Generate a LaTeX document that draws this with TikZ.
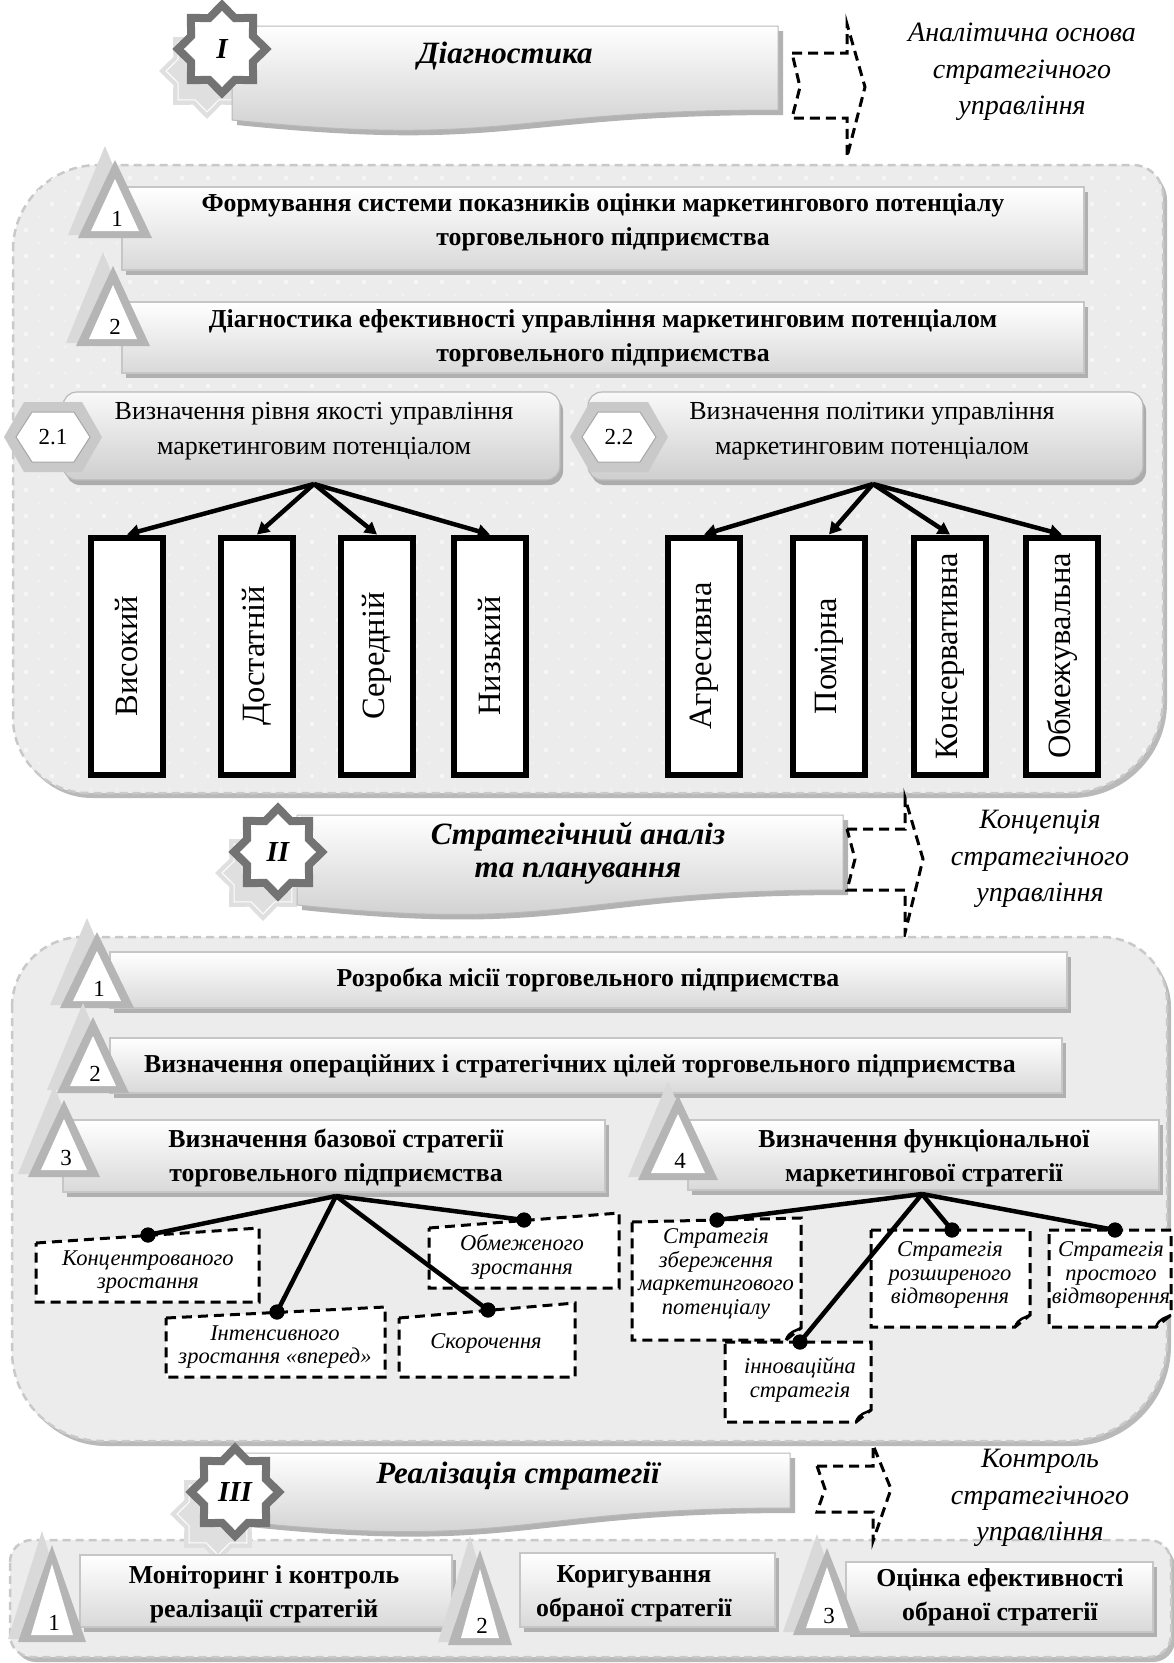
\documentclass[tikz,border=0pt]{standalone}
\usepackage{fontspec}
\setmainfont{Liberation Serif}
\usetikzlibrary{arrows.meta}
\newcommand\panelpath[8]{({#1},{#2+#5}) .. controls ({#1},{#2+0.45*#5}) and ({#1+0.45*#5},{#2}) .. ({#1+#5},{#2}) -- ({#3-#6},{#2}) .. controls ({#3-0.45*#6},{#2}) and ({#3},{#2+0.45*#6}) .. ({#3},{#2+#6}) -- ({#3},{#4-#7}) .. controls ({#3},{#4-0.45*#7}) and ({#3-0.45*#7},{#4}) .. ({#3-#7},{#4}) -- ({#1+#8},{#4}) .. controls ({#1+0.45*#8},{#4}) and ({#1},{#4-0.45*#8}) .. ({#1},{#4-#8}) -- cycle}
\newcommand\drawpanel[8]{%
  \fill[gray!55,shift={(4,5)}] \panelpath{#1}{#2}{#3}{#4}{#5}{#6}{#7}{#8};
  \fill[gray!15] \panelpath{#1}{#2}{#3}{#4}{#5}{#6}{#7}{#8};
  \draw[pborder] \panelpath{#1}{#2}{#3}{#4}{#5}{#6}{#7}{#8};}
\newcommand\bannerpath[5]{(#1,#3) -- (#2,#3) -- (#2,#4) .. controls ({(#1+#2)/2},#4) and ({(#1+#2)/2},{#5+28}) .. (#1,#5) -- cycle}
\newcommand\drawbanner[5]{%
  \fill[gray!60,shift={(5,5)}] \bannerpath{#1}{#2}{#3}{#4}{#5};
  \shade[top color=white, bottom color=gray!42] \bannerpath{#1}{#2}{#3}{#4}{#5};
  \draw[gray!55, line width=1pt] \bannerpath{#1}{#2}{#3}{#4}{#5};}
\newcommand\starshadow[2]{%
  \fill[gray!25] plot[variable=\k, samples at={0,...,15}] ({#1+48*(0.88+0.12*cos(180*\k))*cos(22.5*\k)}, {#2+48*(0.88+0.12*cos(180*\k))*sin(22.5*\k)}) -- cycle;
  \draw[white, line width=1pt] plot[variable=\k, samples at={0,...,15}] ({#1+41*(0.88+0.12*cos(180*\k))*cos(22.5*\k)}, {#2+41*(0.88+0.12*cos(180*\k))*sin(22.5*\k)}) -- cycle;}
\newcommand\starmain[4]{%
  \draw[fill=white, draw=black!55, line width=8pt] plot[variable=\k, samples at={0,...,15}] ({#1+44*(0.88+0.12*cos(180*\k))*cos(22.5*\k)}, {#2+44*(0.88+0.12*cos(180*\k))*sin(22.5*\k)}) -- cycle;
  \node[starfont] (#4) at (#1,#2) {#3};}
\newcommand\numtri[6]{%
  \fill[gray!30] ({#1-10},{#2-14}) -- ({#1-10-#3},{#4-3}) -- ({#1-10+#3},{#4-3}) -- cycle;
  \fill[gray!58] (#1,#2) -- ({#1-#3},#4) -- ({#1+#3},#4) -- cycle;
  \fill[white] (#1,{#2+19}) -- ({#1-#3+13},{#4-7}) -- ({#1+#3-13},{#4-7}) -- cycle;
  \node[numfont] (#6) at ({#1+2},{#4-19}) {#5};}
\newcommand\numhex[4]{%
  \fill[gray!42] ({#1-49},#2) -- ({#1-29},{#2-35}) -- ({#1+29},{#2-35}) -- ({#1+49},#2) -- ({#1+29},{#2+35}) -- ({#1-29},{#2+35}) -- cycle;
  \draw[fill=white, draw=gray!70, line width=1pt] ({#1-37},#2) -- ({#1-21},{#2-25}) -- ({#1+21},{#2-25}) -- ({#1+37},#2) -- ({#1+21},{#2+25}) -- ({#1-21},{#2+25}) -- cycle;
  \node[numfont] (#4) at (#1,#2) {#3};}
\newcommand\gbox[4]{%
  \fill[gray!62] ({#1+4},{#2+5}) rectangle ({#3+4},{#4+5});
  \shade[top color=white, bottom color=gray!30, draw=gray!45, line width=1.2pt] (#1,#2) rectangle (#3,#4);}
\newcommand\rbox[4]{%
  \fill[gray!65, rounded corners=14] ({#1+3},{#2+5}) rectangle ({#3+3},{#4+5});
  \shade[top color=gray!5, bottom color=gray!38, draw=gray!55, line width=1.2pt, rounded corners=14] (#1,#2) rectangle (#3,#4);}
\newcommand\dbox[5]{\draw[dboxst] (#1,#2) -- (#3,#4) -- (#3,#5) -- (#1,#5) -- cycle;}
\newcommand\dboxc[5]{%
  \draw[dboxst] (#1,#2) -- (#3,#4) -- (#3,{#5-12}) -- ({#3-15},#5) -- (#1,#5) -- cycle;
  \draw[line width=2.5pt] ({#3-15},#5) .. controls ({#3-12},{#5-9}) and ({#3-5},{#5-9}) .. (#3,{#5-12});}
\begin{document}
\begin{tikzpicture}[x=1pt,y=-1pt,
  pborder/.style={draw=gray!42, line width=2.5pt, dash pattern=on 8pt off 5pt},
  darrow/.style={line width=3pt, dash pattern=on 10pt off 6pt},
  dboxst/.style={fill=white, draw=black, line width=3pt, dash pattern=on 10pt off 6pt},
  conn/.style={line width=4.5pt},
  dotn/.style={circle, fill=black, inner sep=0pt, minimum size=15pt},
  bfont/.style={font=\fontsize{25.8}{34}\selectfont\bfseries, align=center, inner sep=0pt},
  rfont/.style={font=\fontsize{26}{35}\selectfont, align=center, inner sep=0pt},
  ifont/.style={font=\fontsize{22.5}{23.5}\selectfont\itshape, align=center, inner sep=0pt},
  sfont/.style={font=\fontsize{28}{36.5}\selectfont\itshape, align=center, inner sep=0pt},
  tfont/.style={font=\fontsize{31}{33}\selectfont\bfseries\itshape, align=center, inner sep=0pt},
  numfont/.style={font=\fontsize{23}{24}\selectfont, inner sep=0pt},
  starfont/.style={font=\fontsize{29}{30}\selectfont\bfseries\itshape, inner sep=0pt},
  vbox/.style={draw=black, fill=white, line width=6pt, rotate=90, minimum width=237pt, minimum height=72pt, inner sep=0pt, font=\fontsize{32.5}{34}\selectfont}]
\useasboundingbox (0,0) rectangle (1174,1663);

% ================= Section I header
\starshadow{207}{71}
\drawbanner{232}{778}{26}{110}{120}
\starmain{222}{49}{I}{s1}
\node[tfont] (t1) at (505,56) {Діагностика};
\draw[darrow] (792,53) -- (847,53) -- (847,24) -- (865,87) -- (847,157) -- (847,118) -- (792,118) -- (800,87) -- cycle;
\node[sfont] (side1) at (1022,72) {Аналітична основа\\стратегічного\\управління};

% ================= Panel 1
\drawpanel{13}{165}{1163}{793}{85}{30}{95}{75}
\begin{scope}
  \clip \panelpath{13}{165}{1163}{793}{85}{30}{95}{75};
  \foreach \i in {0,...,44} \foreach \j in {0,...,24} {
    \fill[gray!7] ({26+26*\i},{178+26*\j}) circle (2.2);
    \fill[gray!10] ({39+26*\i},{191+26*\j}) circle (1.6);}
\end{scope}
\gbox{122}{187}{1084}{270}
\numtri{115}{160}{37}{238}{1}{n11}
\node[bfont] (p1a) at (603,222) {Формування системи показників оцінки маркетингового потенціалу\\торговельного підприємства};
\gbox{122}{302}{1084}{373}
\numtri{113}{266}{37}{346}{2}{n12}
\node[bfont] (p1b) at (603,338) {Діагностика ефективності управління маркетинговим потенціалом\\торговельного підприємства};
\rbox{63}{392}{560}{480}
\numhex{53}{437}{2.1}{h21}
\node[rfont] (p1c) at (314,431) {Визначення рівня якості управління\\маркетинговим потенціалом};
\rbox{588}{392}{1143}{480}
\numhex{619}{437}{2.2}{h22}
\node[rfont] (p1d) at (872,431) {Визначення політики управління\\маркетинговим потенціалом};
\coordinate (r1) at (314,484);
\coordinate (r2) at (873,484);
\node[vbox] (v1) at (127,656) {Високий};
\node[vbox] (v2) at (257,656) {Достатній};
\node[vbox] (v3) at (377,656) {Середній};
\node[vbox] (v4) at (490,656) {Низький};
\node[vbox] (v5) at (704,656) {Агресивна};
\node[vbox] (v6) at (829,656) {Помірна};
\node[vbox] (v7) at (950,656) {Консервативна};
\node[vbox] (v8) at (1062,656) {Обмежувальна};
\foreach \n in {v1,v2,v3,v4} \draw[conn,-{Triangle[length=12pt,width=13pt]}] (r1) -- (\n.east);
\foreach \n in {v5,v6,v7,v8} \draw[conn,-{Triangle[length=12pt,width=13pt]}] (r2) -- (\n.east);

% ================= Section II header
\starshadow{263}{873}
\drawbanner{297}{843}{815}{890}{905}
\starmain{278}{852}{II}{s2}
\node[tfont] (t2) at (578,853) {Стратегічний аналіз\\та планування};
\draw[darrow] (847,829) -- (905,829) -- (905,798) -- (923,859) -- (905,933) -- (905,890) -- (847,890) -- (855,859) -- cycle;
\node[sfont] (side2) at (1040,859) {Концепція\\стратегічного\\управління};

% ================= Panel 2
\drawpanel{12}{937}{1167}{1441}{70}{65}{100}{90}
\gbox{110}{952}{1067}{1008}
\numtri{97}{932}{37}{1008}{1}{n21}
\node[bfont] (p2a) at (588,980) {Розробка місії торговельного підприємства};
\gbox{110}{1038}{1062}{1093}
\numtri{93}{1017}{36}{1093}{2}{n22}
\node[bfont] (p2b) at (580,1066) {Визначення операційних і стратегічних цілей торговельного підприємства};
\gbox{63}{1120}{605}{1192}
\numtri{64}{1100}{36}{1177}{3}{n23}
\node[bfont] (p2c) at (336,1158) {Визначення базової стратегії\\торговельного підприємства};
\gbox{688}{1120}{1159}{1190}
\numtri{678}{1095}{40}{1180}{4}{n24}
\node[bfont] (p2d) at (924,1158) {Визначення функціональної\\маркетингової стратегії};

\dbox{36}{1243}{259}{1228}{1302}
\node[ifont] (b1) at (148,1272) {Концентрованого\\зростання};
\dbox{166}{1318}{385}{1307}{1377}
\node[ifont] (b2) at (275,1347) {Інтенсивного\\зростання «вперед»};
\dbox{399}{1318}{575}{1303}{1377}
\node[ifont] (b3) at (486,1343) {Скорочення};
\dbox{429}{1228}{619}{1213}{1288}
\node[ifont] (b4) at (522,1257) {Обмеженого\\зростання};
\dboxc{632}{1222}{801}{1218}{1340}
\node[ifont] (b5) at (716,1274) {Стратегія\\збереження\\маркетингового\\потенціалу};
\dboxc{725}{1342}{871}{1342}{1422}
\node[ifont] (b6) at (800,1380) {інноваційна\\стратегія};
\dboxc{871}{1230}{1030}{1230}{1327}
\node[ifont] (b7) at (950,1275) {Стратегія\\розширеного\\відтворення};
\dboxc{1049}{1230}{1171}{1230}{1327}
\node[ifont] (b8) at (1111,1275) {Стратегія\\простого\\відтворення};

\coordinate (r3) at (336,1196);
\coordinate (r4) at (922,1194);
\node[dotn] (d1) at (148,1235) {};
\node[dotn] (d2) at (277,1312) {};
\node[dotn] (d3) at (488,1310) {};
\node[dotn] (d4) at (524,1220) {};
\node[dotn] (d5) at (717,1220) {};
\node[dotn] (d6) at (800,1342) {};
\node[dotn] (d7) at (952,1230) {};
\node[dotn] (d8) at (1115,1230) {};
\foreach \n in {d1,d2,d3,d4} \draw[conn] (r3) -- (\n.center);
\foreach \n in {d5,d6,d7,d8} \draw[conn] (r4) -- (\n.center);
\foreach \n in {d1,d2,d3,d4,d5,d6,d7,d8} \fill (\n) circle (7.5);

% ================= Panel 3
\drawpanel{10}{1540}{1171}{1657}{22}{22}{22}{22}

% ================= Section III header
\starshadow{218}{1514}
\drawbanner{245}{790}{1453}{1508}{1522}
\starmain{235}{1492}{III}{s3}
\node[tfont] (t3) at (518,1476) {Реалізація стратегії};
\draw[darrow] (817,1466) -- (873,1466) -- (873,1445) -- (891,1489) -- (873,1541) -- (873,1512) -- (817,1512) -- (825,1489) -- cycle;
\node[sfont] (side3) at (1040,1498) {Контроль\\стратегічного\\управління};

% panel 3 contents
\gbox{80}{1555}{452}{1627}
\numtri{52}{1545}{34}{1642}{1}{n31}
\node[bfont] (p3a) at (264,1594) {Моніторинг і контроль\\реалізації стратегій};
\gbox{520}{1553}{775}{1627}
\numtri{480}{1550}{32}{1645}{2}{n32}
\node[bfont] (p3b) at (634,1594) {Коригування\\обраної стратегії};
\gbox{846}{1562}{1153}{1632}
\numtri{827}{1548}{34}{1635}{3}{n33}
\node[bfont] (p3c) at (1000,1597) {Оцінка ефективності\\обраної стратегії};
\end{tikzpicture}
\end{document}
